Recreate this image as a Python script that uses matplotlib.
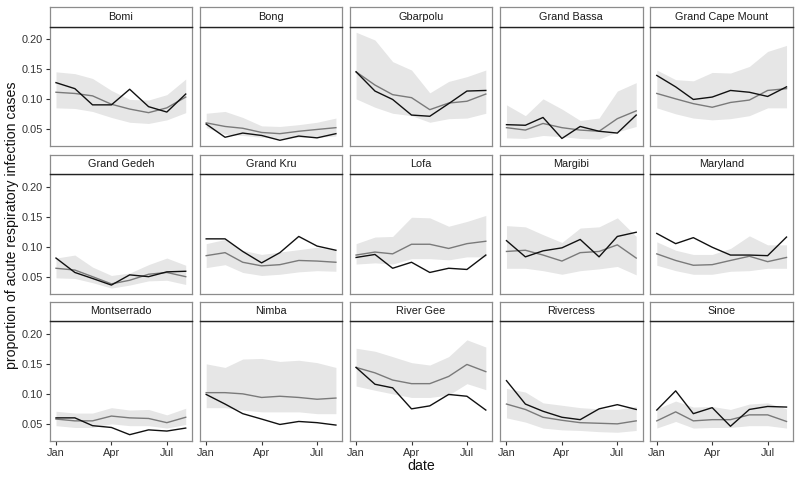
import matplotlib
matplotlib.use('Agg')
import matplotlib.pyplot as plt
import matplotlib.dates as mdates
import pandas as pd
import numpy as np

plt.rcParams['font.family'] = ['Liberation Sans', 'DejaVu Sans']

# monthly dates (Jan - Aug)
dates = pd.date_range('2016-01-01', periods=8, freq='MS')

counties = ['Bomi', 'Bong', 'Gbarpolu', 'Grand Bassa', 'Grand Cape Mount',
            'Grand Gedeh', 'Grand Kru', 'Lofa', 'Margibi', 'Maryland',
            'Montserrado', 'Nimba', 'River Gee', 'Rivercess', 'Sinoe']

# observed proportion (black line)
observed = [
    [0.128, 0.118, 0.091, 0.091, 0.117, 0.088, 0.079, 0.109],
    [0.059, 0.037, 0.044, 0.040, 0.032, 0.039, 0.036, 0.043],
    [0.146, 0.114, 0.100, 0.074, 0.072, 0.093, 0.114, 0.115],
    [0.058, 0.057, 0.070, 0.035, 0.055, 0.047, 0.044, 0.074],
    [0.140, 0.121, 0.100, 0.104, 0.115, 0.112, 0.105, 0.121],
    [0.081, 0.057, 0.047, 0.036, 0.053, 0.050, 0.058, 0.059],
    [0.113, 0.113, 0.092, 0.073, 0.090, 0.117, 0.101, 0.094],
    [0.082, 0.087, 0.064, 0.074, 0.057, 0.064, 0.062, 0.086],
    [0.110, 0.083, 0.093, 0.098, 0.112, 0.083, 0.117, 0.124],
    [0.122, 0.105, 0.115, 0.099, 0.086, 0.086, 0.085, 0.116],
    [0.060, 0.060, 0.047, 0.044, 0.032, 0.040, 0.038, 0.043],
    [0.099, 0.083, 0.067, 0.058, 0.049, 0.054, 0.052, 0.048],
    [0.144, 0.116, 0.110, 0.075, 0.080, 0.099, 0.096, 0.073],
    [0.122, 0.083, 0.071, 0.061, 0.057, 0.075, 0.082, 0.074],
    [0.073, 0.105, 0.067, 0.077, 0.046, 0.074, 0.079, 0.078],
]

# predicted proportion (grey line)
predicted = [
    [0.112, 0.110, 0.106, 0.092, 0.084, 0.078, 0.086, 0.104],
    [0.061, 0.055, 0.052, 0.045, 0.043, 0.047, 0.050, 0.053],
    [0.146, 0.124, 0.108, 0.103, 0.083, 0.094, 0.097, 0.109],
    [0.053, 0.049, 0.060, 0.053, 0.049, 0.047, 0.068, 0.081],
    [0.110, 0.101, 0.093, 0.087, 0.095, 0.099, 0.115, 0.118],
    [0.064, 0.061, 0.050, 0.038, 0.044, 0.054, 0.057, 0.050],
    [0.085, 0.090, 0.074, 0.068, 0.070, 0.077, 0.076, 0.074],
    [0.086, 0.091, 0.088, 0.104, 0.104, 0.097, 0.105, 0.109],
    [0.092, 0.094, 0.086, 0.076, 0.090, 0.092, 0.103, 0.081],
    [0.088, 0.077, 0.069, 0.070, 0.077, 0.084, 0.075, 0.082],
    [0.058, 0.055, 0.055, 0.063, 0.060, 0.059, 0.052, 0.061],
    [0.102, 0.102, 0.100, 0.094, 0.096, 0.094, 0.091, 0.093],
    [0.144, 0.135, 0.123, 0.117, 0.117, 0.129, 0.149, 0.137],
    [0.083, 0.074, 0.061, 0.056, 0.052, 0.051, 0.050, 0.055],
    [0.055, 0.070, 0.055, 0.057, 0.057, 0.065, 0.065, 0.054],
]

# prediction interval
lower = [
    [0.086, 0.085, 0.080, 0.070, 0.062, 0.060, 0.066, 0.078],
    [0.053, 0.042, 0.040, 0.037, 0.035, 0.037, 0.037, 0.039],
    [0.101, 0.087, 0.077, 0.073, 0.062, 0.068, 0.069, 0.077],
    [0.036, 0.035, 0.040, 0.038, 0.035, 0.034, 0.046, 0.055],
    [0.086, 0.076, 0.069, 0.066, 0.068, 0.073, 0.086, 0.086],
    [0.048, 0.047, 0.040, 0.031, 0.036, 0.043, 0.044, 0.037],
    [0.065, 0.070, 0.057, 0.052, 0.054, 0.058, 0.060, 0.059],
    [0.071, 0.073, 0.071, 0.080, 0.080, 0.078, 0.083, 0.083],
    [0.064, 0.064, 0.060, 0.054, 0.060, 0.063, 0.067, 0.053],
    [0.069, 0.060, 0.054, 0.054, 0.059, 0.060, 0.064, 0.064],
    [0.047, 0.044, 0.044, 0.050, 0.047, 0.047, 0.043, 0.049],
    [0.077, 0.077, 0.073, 0.070, 0.070, 0.070, 0.067, 0.067],
    [0.113, 0.106, 0.100, 0.094, 0.094, 0.098, 0.117, 0.107],
    [0.060, 0.053, 0.043, 0.040, 0.039, 0.037, 0.036, 0.039],
    [0.043, 0.054, 0.043, 0.044, 0.044, 0.047, 0.047, 0.043],
]
upper = [
    [0.146, 0.143, 0.135, 0.115, 0.100, 0.099, 0.108, 0.134],
    [0.077, 0.080, 0.070, 0.056, 0.055, 0.058, 0.062, 0.069],
    [0.212, 0.199, 0.163, 0.149, 0.111, 0.130, 0.138, 0.149],
    [0.091, 0.073, 0.101, 0.084, 0.065, 0.069, 0.114, 0.128],
    [0.149, 0.133, 0.131, 0.145, 0.144, 0.155, 0.180, 0.190],
    [0.081, 0.086, 0.066, 0.052, 0.056, 0.070, 0.081, 0.069],
    [0.105, 0.112, 0.094, 0.087, 0.091, 0.095, 0.099, 0.094],
    [0.105, 0.116, 0.117, 0.149, 0.148, 0.134, 0.142, 0.152],
    [0.135, 0.133, 0.120, 0.107, 0.131, 0.133, 0.148, 0.117],
    [0.108, 0.094, 0.087, 0.087, 0.097, 0.118, 0.103, 0.103],
    [0.071, 0.068, 0.068, 0.077, 0.073, 0.074, 0.065, 0.076],
    [0.150, 0.144, 0.158, 0.159, 0.154, 0.156, 0.152, 0.144],
    [0.176, 0.171, 0.162, 0.152, 0.148, 0.162, 0.190, 0.178],
    [0.109, 0.103, 0.085, 0.081, 0.077, 0.075, 0.074, 0.079],
    [0.075, 0.088, 0.078, 0.079, 0.074, 0.083, 0.085, 0.075],
]

W, H = 800, 480
fig = plt.figure(figsize=(8, 4.8), dpi=100)

col_left = [49.5, 199.7, 349.6, 500.0, 650.3]
panel_w = 142.7
strip_h = 19.5
plot_h = 119.5
row_top = [7.3, 154.5, 301.7]

# shared scales (ggplot-like 5% expansion)
all_lo = min(min(v) for v in lower + observed)
all_hi = max(max(v) for v in upper + observed)
pad = 0.05 * (all_hi - all_lo)
ylim = (all_lo - pad, all_hi + pad)
xnum = mdates.date2num(dates)
xpad = 0.05 * (xnum[-1] - xnum[0])
xlim = (xnum[0] - xpad, xnum[-1] + xpad)
xticks = pd.to_datetime(['2016-01-01', '2016-04-01', '2016-07-01'])

for i, name in enumerate(counties):
    r, c = divmod(i, 5)
    x0 = col_left[c] / W
    top = row_top[r]
    ax = fig.add_axes([x0, 1 - (top + strip_h + plot_h) / H, panel_w / W, plot_h / H])
    ax.fill_between(dates, lower[i], upper[i], color='#e6e6e6', lw=0)
    ax.plot(dates, predicted[i], color='#7a7a7a', lw=1.0)
    ax.plot(dates, observed[i], color='#111111', lw=1.0)
    ax.set_xlim(xlim)
    ax.set_ylim(ylim)
    ax.set_xticks(xticks)
    ax.xaxis.set_major_formatter(mdates.DateFormatter('%b'))
    ax.set_yticks([0.05, 0.10, 0.15, 0.20])
    ax.yaxis.set_major_formatter(matplotlib.ticker.FormatStrFormatter('%.2f'))
    for s in ax.spines.values():
        s.set_color('#8c8c8c')
        s.set_linewidth(0.9)
    ax.tick_params(length=3, width=0.8, color='#333333', labelcolor='#333333',
                   labelsize=7.9, pad=2)
    if c != 0:
        ax.tick_params(axis='y', left=False, labelleft=False)
    if r != 2:
        ax.tick_params(axis='x', bottom=False, labelbottom=False)

    # facet strip
    sa = fig.add_axes([x0, 1 - (top + strip_h) / H, panel_w / W, strip_h / H])
    sa.set_xticks([])
    sa.set_yticks([])
    for s in sa.spines.values():
        s.set_color('#8c8c8c')
        s.set_linewidth(0.9)
    sa.spines['bottom'].set_color('#222222')
    sa.spines['bottom'].set_linewidth(1.0)
    sa.text(0.5, 0.5, name, ha='center', va='center', fontsize=7.8,
            color='#1a1a1a', transform=sa.transAxes)

fig.text(12 / W, 1 - 225 / H, 'proportion of acute respiratory infection cases',
         rotation=90, ha='center', va='center', fontsize=10.2, color='#111111')
fig.text(421 / W, 1 - 466 / H, 'date', ha='center', va='center',
         fontsize=10.2, color='#111111')

fig.savefig('out.png', dpi=100, facecolor='white')
